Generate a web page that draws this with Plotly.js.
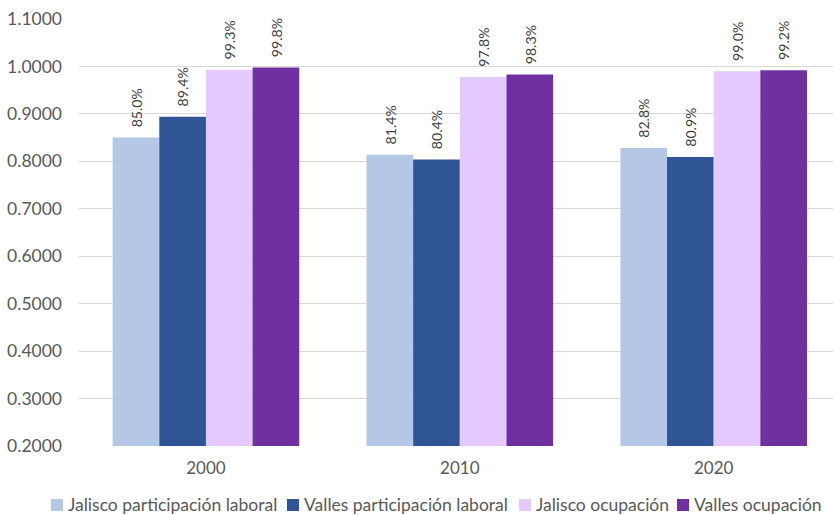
<!DOCTYPE html>
<html><head><meta charset="utf-8">
<script src="https://cdn.plot.ly/plotly-3.0.1.min.js"></script>
<style>html,body{margin:0;padding:0;background:#fff}#chart{width:833px;height:515px}</style>
</head><body><div id="chart"></div>
<script>
const categories = ["2000", "2010", "2020"];
const seriesNames = ["Jalisco participación laboral", "Valles participación laboral", "Jalisco ocupación", "Valles ocupación"];
const jaliscoParticipacion = [0.850, 0.814, 0.828];
const vallesParticipacion = [0.894, 0.804, 0.809];
const jaliscoOcupacion = [0.993, 0.978, 0.990];
const vallesOcupacion = [0.998, 0.983, 0.992];
const yTicks = [0.2, 0.3, 0.4, 0.5, 0.6, 0.7, 0.8, 0.9, 1.0, 1.1];

const colors = ["#B4C7E7", "#2F5597", "#E6C9FF", "#7030A0"];
const values = [jaliscoParticipacion, vallesParticipacion, jaliscoOcupacion, vallesOcupacion];
const font = "Lato, Open Sans, sans-serif";

const traces = values.map((v, i) => ({
  type: "bar",
  name: seriesNames[i],
  x: categories,
  y: v,
  marker: {color: colors[i]},
  texttemplate: "\u00a0\u00a0%{y:.1%}",
  textposition: "outside",
  textangle: -90,
  textfont: {family: font, size: 16, color: "#404040"},
  cliponaxis: false,
  showlegend: false,
  hoverinfo: "skip"
}));

// Legend drawn as paper-positioned swatches and text (layout only, no data)
const W = 833, H = 515;
const legendX = [51, 287, 519, 677];
const legendY = 505;
const shapes = seriesNames.map((n, i) => ({
  type: "rect", xref: "paper", yref: "paper",
  x0: (legendX[i] - 79) / (W - 79), x1: (legendX[i] + 12 - 79) / (W - 79),
  y0: (H - 69 - (legendY + 6)) / (H - 88), y1: (H - 69 - (legendY - 6)) / (H - 88),
  fillcolor: colors[i], line: {width: 0}
}));
const annotations = seriesNames.map((n, i) => ({
  text: n, showarrow: false, xref: "paper", yref: "paper",
  x: (legendX[i] + 15 - 79) / (W - 79), xanchor: "left",
  y: (H - 69 - legendY) / (H - 88), yanchor: "middle",
  font: {family: font, size: 17.5, color: "#595959"}
}));

const layout = {
  width: W, height: H,
  margin: {l: 79, r: 0, t: 19, b: 69},
  paper_bgcolor: "#fff", plot_bgcolor: "#fff",
  barmode: "group", bargap: 0.265, bargroupgap: 0,
  font: {family: font, size: 17, color: "#595959"},
  xaxis: {type: "category", range: [-0.5, 2.47], showgrid: false, ticks: "", showline: false,
          tickfont: {family: font, size: 17, color: "#595959"}, ticklabelstandoff: 10},
  yaxis: {range: [0.2, 1.1], tickvals: yTicks, ticktext: yTicks.map(t => t.toFixed(4)),
          showgrid: true, gridcolor: "#D9D9D9", gridwidth: 1, zeroline: false, showline: false,
          tickfont: {family: font, size: 17.5, color: "#595959"}, ticklabelstandoff: 16},
  shapes: shapes,
  annotations: annotations,
  showlegend: false
};
Plotly.newPlot("chart", traces, layout, {staticPlot: true});
</script></body></html>
